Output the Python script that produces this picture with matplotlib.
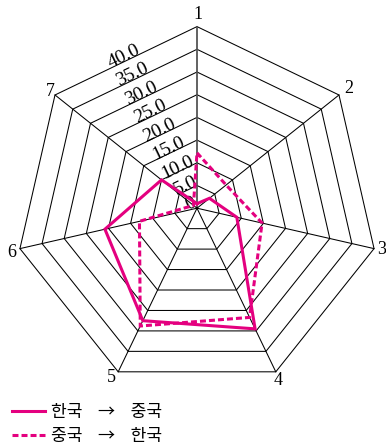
import numpy as np
import matplotlib
matplotlib.use("Agg")
import matplotlib.pyplot as plt
from matplotlib.lines import Line2D

# Radar data: seven axes, two directions of flow
axis_labels = ["1", "2", "3", "4", "5", "6", "7"]
ring_values = [5, 10, 15, 20, 25, 30, 35, 40]
ring_labels = ["0", "5.0", "10.0", "15.0", "20.0", "25.0", "30.0", "35.0", "40.0"]
kor_to_chn = [1.0, 3.5, 9.0, 29.5, 27.5, 20.8, 10.0]
chn_to_kor = [12.2, 8.2, 14.7, 26.7, 28.8, 13.0, 1.0]
series_names = ["한국    →    중국", "중국    →    한국"]

MAGENTA = "#e4007f"
SERIF = ["Liberation Serif", "DejaVu Serif"]
CJK = ["Noto Sans CJK KR", "DejaVu Sans"]
plt.rcParams["lines.scale_dashes"] = False
DASH = (0, (4.3, 2.2))

n = len(axis_labels)
theta = np.pi / 2 - np.arange(n) * 2 * np.pi / n


def xy(values):
    v = np.asarray(values, dtype=float)
    return v * np.cos(theta), v * np.sin(theta)


fig = plt.figure(figsize=(3.86, 4.47), dpi=100)
ax = fig.add_axes([0, 0, 1, 1])
ax.set_xlim(-43.39, 41.63)
ax.set_ylim(-52.6, 45.86)
ax.axis("off")

# heptagonal grid rings
rmax = ring_values[-1]
for r in ring_values:
    x, y = xy([r] * n)
    ax.plot(np.append(x, x[0]), np.append(y, y[0]), color="black", lw=0.75, zorder=1)

# spokes
for k in range(n):
    ex, ey = rmax * np.cos(theta[k]), rmax * np.sin(theta[k])
    if k == 0:
        ax.plot([0, ex], [0, ey], color="#555555", lw=1.3, zorder=1)
    else:
        ax.plot([0, ex], [0, ey], color="black", lw=0.75, zorder=1)

# axis names just outside each vertex (offsets in points)
name_offsets = [(0.5, 8.5), (6.8, 4.9), (5.6, -1.0), (1.8, -6.0),
                (-4.7, -3.8), (-6.0, -3.0), (-3.6, 2.5)]
for k, lab in enumerate(axis_labels):
    ax.annotate(lab, (rmax * np.cos(theta[k]), rmax * np.sin(theta[k])),
                xytext=name_offsets[k], textcoords="offset points",
                family=SERIF, fontsize=13, ha="center", va="center", zorder=3)

# ring value labels along the edge between axes 7 and 1
p1 = np.array([np.cos(theta[0]), np.sin(theta[0])])
p7 = np.array([np.cos(theta[-1]), np.sin(theta[-1])])
edge = p1 - p7
ang = np.degrees(np.arctan2(edge[1], edge[0]))
normal = np.array([-edge[1], edge[0]]) / np.linalg.norm(edge)
for r, lab in zip([0] + ring_values, ring_labels):
    mid = 0.5 * r * (p1 + p7) + normal * 0.05
    if r == 0:
        mid = mid + np.array([-0.9, 0.0])
    ax.text(mid[0], mid[1], lab, family=SERIF, fontsize=14, rotation=ang,
            rotation_mode="anchor", ha="center", va="baseline", zorder=3)

# data polygons
x, y = xy(kor_to_chn)
ax.plot(np.append(x, x[0]), np.append(y, y[0]), color=MAGENTA, lw=2.2,
        solid_joinstyle="miter", zorder=4)
x, y = xy(chn_to_kor)
ax.plot(np.append(x, x[0]), np.append(y, y[0]), color=MAGENTA, lw=2.2,
        linestyle=DASH, dash_joinstyle="miter", zorder=4)

handles = [
    Line2D([], [], color=MAGENTA, lw=2.2),
    Line2D([], [], color=MAGENTA, lw=2.2, linestyle=DASH),
]
fig.legend(handles, series_names, loc="upper left", bbox_to_anchor=(0.03, 0.098),
           frameon=False, handlelength=1.95, handletextpad=0.35, labelspacing=0.35,
           borderpad=0.0, borderaxespad=0.0, prop={"family": CJK, "size": 12.3})

fig.savefig("out.png", dpi=100)
